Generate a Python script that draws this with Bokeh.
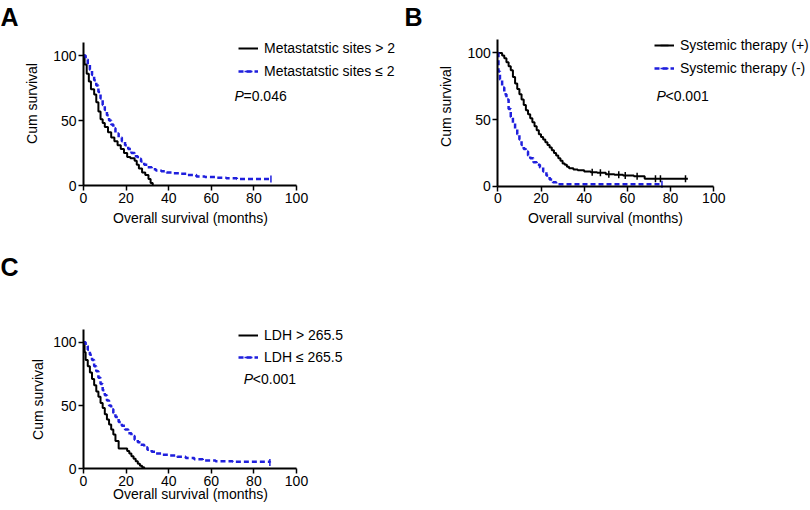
from math import pi
from bokeh.plotting import figure
from bokeh.models import Range1d, FixedTicker, Label, Legend, LegendItem
from bokeh.layouts import column, row
from bokeh.embed import file_html
from bokeh.resources import INLINE

# ---------------- data ----------------
X_TICKS = [0, 20, 40, 60, 80, 100]
Y_TICKS = [0, 50, 100]

# Panel A: metastatic sites
A_hi_t = [0, 0.5, 1.5, 2.5, 3.5, 5, 6, 7, 8, 9, 10, 11.5, 13, 14.5, 16, 17.5, 19, 20.5, 22, 24, 25, 26, 27.5, 29, 30.5, 31.5, 32.5]
A_hi_s = [100, 93, 86, 80, 74, 70, 64, 57, 51, 48, 45, 41, 37, 34, 31, 28, 25, 22, 21, 19, 16, 13, 10, 8, 5, 2, 0]
A_lo_t = [0, 1, 2, 3, 4, 5, 6, 7, 8, 9, 10, 11, 12, 13, 14, 15, 16.5, 18, 19.5, 21, 22.5, 24, 25.5, 27, 28.5, 30, 32, 34, 36.5, 39, 42, 45.5, 49, 53, 57, 62, 67, 72, 88]
A_lo_s = [100, 97, 93, 89, 85, 81, 77, 72, 67, 62, 58, 54, 50, 47, 44, 40, 37, 34, 31, 28, 25, 22.5, 20.5, 18.5, 16, 14, 12.5, 11.5, 11, 10, 9.5, 9, 8, 7, 6.5, 6, 5.5, 5, 5]
A_hi_cens_t, A_hi_cens_s = [], []
A_lo_cens_t, A_lo_cens_s = [88], [5]

# Panel B: systemic therapy
B_pos_t = [0, 2, 3, 4, 5, 6, 7, 8, 9, 10, 11, 12, 13, 14, 15, 16, 17, 18, 19, 20, 21, 22, 23, 24, 25, 26, 27, 28, 29, 30, 31, 32, 33, 35, 37, 40, 43, 46, 50, 54, 58, 63, 68, 88]
B_pos_s = [100, 98, 96, 93, 90, 87, 82, 77, 73, 69, 65, 61, 57, 54, 51, 48, 45, 42, 39, 37, 35, 33, 31, 29, 27, 25, 23, 21, 19, 17, 16, 14.5, 13.5, 12.5, 12, 11, 10.5, 10, 9, 8.5, 8, 7.5, 5.5, 5.5]
B_neg_t = [0, 0.3, 1, 2, 3, 4, 5, 6, 7, 8, 9, 10, 11, 12, 13, 14, 15, 16.5, 18, 19.5, 21, 22.5, 24, 25.5, 27, 76]
B_neg_s = [100, 86, 80, 74, 69, 65, 58, 52, 47, 43, 39, 35, 31, 28, 26, 23, 21, 18, 16, 14, 11, 8, 5, 3, 1.5, 1.5]
B_pos_cens_t = [43.7, 47.5, 51.4, 56, 59, 64.5, 73, 75.3, 86.9]
B_pos_cens_s = [10.5, 10, 9, 8.5, 8, 7.5, 5.5, 5.5, 5.5]
B_neg_cens_t, B_neg_cens_s = [76], [1.5]

# Panel C: LDH
C_hi_t = [0, 0.5, 1, 2, 3, 4, 5, 6, 7, 8, 9, 10, 11, 12, 13, 14, 15, 16.5, 20.5, 21.5, 22.5, 23.5, 24.5, 25.5, 26.5, 27.5, 28.5]
C_hi_s = [100, 92, 86, 81, 76, 71, 66, 61, 57, 52, 48, 43, 39, 35, 31, 27, 22, 16, 14, 12, 10, 8, 6, 4, 2.5, 1.2, 0]
C_lo_t = [0, 1, 2, 3, 4, 5, 6, 7, 8, 9, 10, 11, 12, 13, 14, 15, 16.5, 18, 19.5, 21, 22.5, 24, 25.5, 27, 28.5, 30, 32, 34, 37, 40, 44, 48, 52, 56, 62, 70, 87.5]
C_lo_s = [100, 97, 94, 90, 86, 81, 77, 72, 67, 62, 58, 54, 50, 47, 44, 41, 37, 34, 31, 28, 26, 23, 21, 19, 17, 15, 13.5, 12, 11, 10.5, 9.5, 8.5, 7.5, 6.5, 6, 5.5, 5]
C_hi_cens_t, C_hi_cens_s = [], []
C_lo_cens_t, C_lo_cens_s = [87.5], [5]

LABELS_A = ["Metastatstic sites > 2", "Metastatstic sites \u2264 2"]
LABELS_B = ["Systemic therapy (+)", "Systemic therapy (-)"]
LABELS_C = ["LDH > 265.5", "LDH \u2264 265.5"]
P_A = "=0.046"
P_B = "<0.001"
P_C = "<0.001"

# ---------------- styling / layout ----------------
FONT = "Liberation Sans"
BLACK = "#000000"
BLUE = "#1f1fdd"
FS = "14px"


class Panel:
    """Figure whose frame fills its whole canvas; axes sit at the origin."""

    def __init__(self, left, top, width, height, ox, oy, sx, sy):
        self.left, self.top = left, top          # canvas position on page
        self.ox, self.oy = ox, oy                # page px of data origin
        self.sx, self.sy = sx, sy                # px per data unit
        x0 = (left - ox) / sx
        x1 = (left + width - ox) / sx
        y0 = (oy - (top + height)) / sy
        y1 = (oy - top) / sy
        p = figure(width=width, height=height,
                   x_range=Range1d(x0, x1), y_range=Range1d(y0, y1),
                   output_backend="svg", toolbar_location=None,
                   min_border=0)
        p.min_border_left = p.min_border_right = 0
        p.min_border_top = p.min_border_bottom = 0
        p.xgrid.visible = False
        p.ygrid.visible = False
        p.outline_line_color = None
        p.background_fill_color = "white"
        p.border_fill_color = "white"
        p.xaxis.ticker = FixedTicker(ticks=X_TICKS)
        p.yaxis.ticker = FixedTicker(ticks=Y_TICKS)
        p.xaxis.fixed_location = 0
        p.yaxis.fixed_location = 0
        p.xaxis.bounds = (0, 100)
        p.yaxis.bounds = (0, 110)
        for ax in (p.xaxis[0], p.yaxis[0]):
            ax.axis_line_width = 2
            ax.axis_line_color = "black"
            ax.major_tick_line_width = 1.5
            ax.major_tick_line_color = "black"
            ax.major_tick_out = 5
            ax.major_tick_in = 0
            ax.minor_tick_line_color = None
            ax.major_label_text_font = FONT
            ax.major_label_text_font_size = FS
            ax.major_label_text_color = "black"
            ax.major_label_standoff = 2
        self.p = p
        self.width, self.height = width, height

    def dx(self, px):
        return (px - self.ox) / self.sx

    def dy(self, py):
        return (self.oy - py) / self.sy

    def curves(self, t1, s1, c1t, c1s, t2, s2, c2t, c2s, labels,
               leg_left, leg_bottom, spacing):
        p = self.p
        r1 = p.step(t1, s1, mode="after", line_color=BLACK, line_width=2)
        k1 = p.scatter(c1t, c1s, marker="dash", angle=pi / 2, size=7,
                       line_color=BLACK, line_width=1.5)
        r2 = p.step(t2, s2, mode="after", line_color=BLUE, line_width=2.5,
                    line_dash="5 3")
        k2 = p.scatter(c2t, c2s, marker="dash", angle=pi / 2, size=7,
                       line_color=BLUE, line_width=1.5)
        loc = (leg_left - self.left, self.top + self.height - leg_bottom)
        leg = Legend(items=[LegendItem(label=labels[0], renderers=[r1, k1]),
                            LegendItem(label=labels[1], renderers=[r2, k2])],
                     location=loc, padding=0, margin=0, spacing=spacing,
                     glyph_width=20, glyph_height=20, label_height=20,
                     label_standoff=6, label_text_font=FONT,
                     label_text_font_size=FS, label_text_color="black",
                     border_line_color=None, background_fill_alpha=0)
        p.add_layout(leg)

    def text(self, px, py, txt, size=FS, style="normal", angle=0.0,
             align="left", x_offset=0):
        self.p.add_layout(Label(x=self.dx(px), y=self.dy(py), text=txt,
                                x_offset=x_offset, angle=angle,
                                text_font=FONT, text_font_size=size,
                                text_font_style=style, text_align=align,
                                text_baseline="middle", text_color="black"))

    def texts(self, letter, letter_xy, ytitle_xy, xtitle_xy, p_xy, ptext):
        self.text(letter_xy[0], letter_xy[1], letter, size="25px", style="bold")
        self.text(ytitle_xy[0], ytitle_xy[1], "Cum survival", angle=pi / 2,
                  align="center")
        self.text(xtitle_xy[0], xtitle_xy[1], "Overall survival (months)",
                  align="center")
        self.text(p_xy[0], p_xy[1], "P", style="italic")
        self.text(p_xy[0], p_xy[1], ptext, x_offset=9)


# Panel A (page px geometry)
A = Panel(0, 0, 400, 250, 83, 185, 2.13, 1.30)
A.curves(A_hi_t, A_hi_s, A_hi_cens_t, A_hi_cens_s,
         A_lo_t, A_lo_s, A_lo_cens_t, A_lo_cens_s, LABELS_A, 238, 81.3, 3)
A.texts("A", (0, 16), (31, 103), (190, 217), (234, 95), P_A)

# Panel B
B = Panel(400, 0, 410, 250, 497.3, 185.7, 2.16, 1.333)
B.curves(B_pos_t, B_pos_s, B_pos_cens_t, B_pos_cens_s,
         B_neg_t, B_neg_s, B_neg_cens_t, B_neg_cens_s, LABELS_B, 654, 78, 3)
B.texts("B", (404, 16), (445.8, 106), (605, 217), (656, 95), P_B)

# Panel C
C = Panel(0, 250, 400, 260, 83, 468.3, 2.13, 1.266)
C.curves(C_hi_t, C_hi_s, C_hi_cens_t, C_hi_cens_s,
         C_lo_t, C_lo_s, C_lo_cens_t, C_lo_cens_s, LABELS_C, 238, 367, 2)
C.texts("C", (0, 266), (37, 399), (190, 493), (243.3, 378.3), P_C)

layout = column(row(A.p, B.p, spacing=0), C.p, spacing=0)

open("out.html", "w").write(file_html(layout, INLINE))
